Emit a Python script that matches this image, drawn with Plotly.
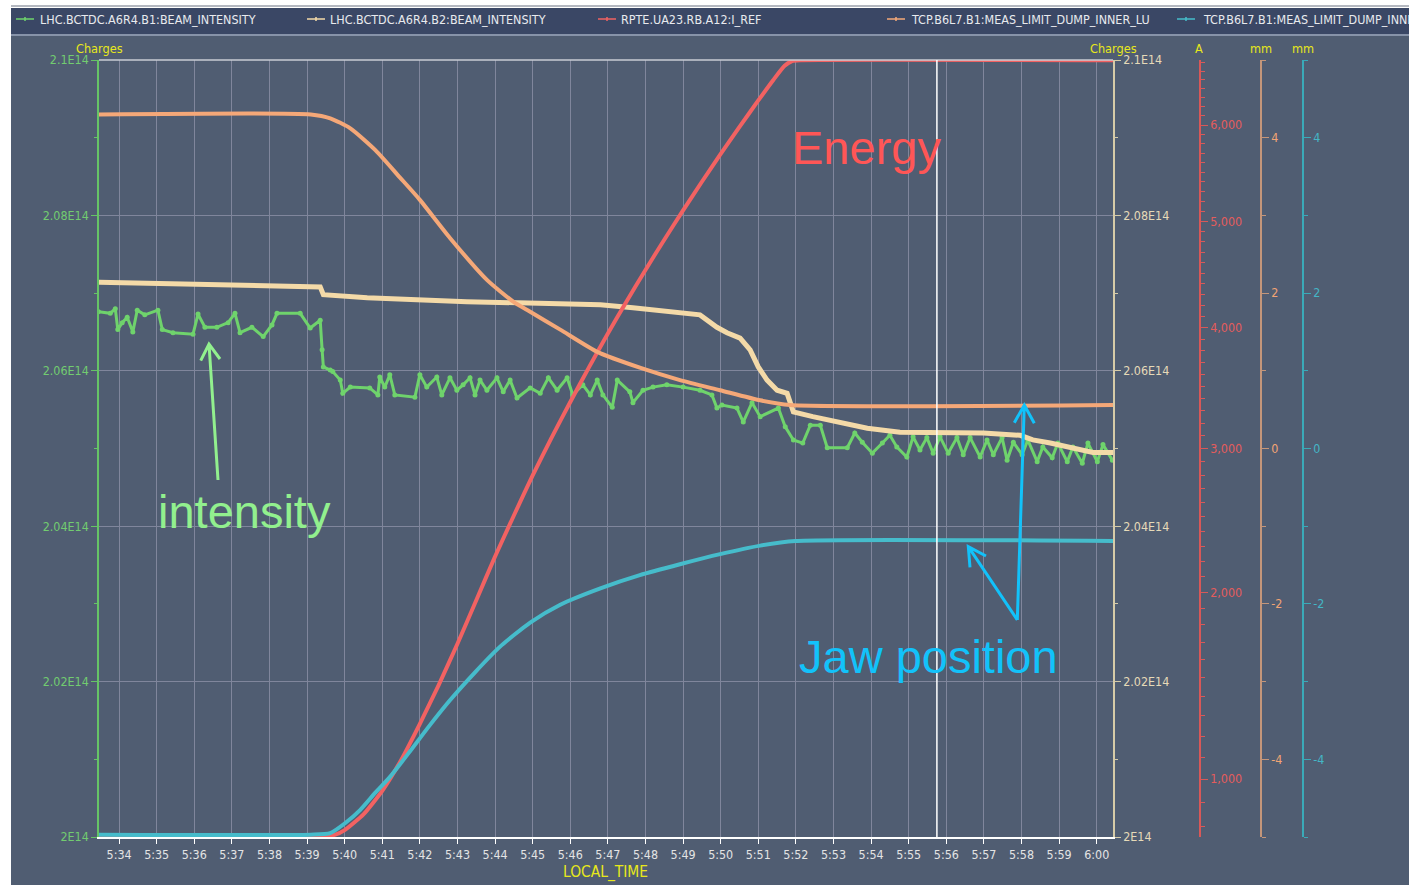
import numpy as np
import pandas as pd
import plotly.graph_objects as go

DAY = "2012-04-15 "

# ---- LHC.BCTDC.A6R4.B1:BEAM_INTENSITY  (charges, x1e14)
b1_time = ["05:33:27", "05:33:46", "05:33:54", "05:33:58", "05:34:05", "05:34:13", "05:34:22", "05:34:29",
           "05:34:41", "05:35:02", "05:35:09", "05:35:26", "05:35:58", "05:36:06", "05:36:17", "05:36:36",
           "05:36:54", "05:37:05", "05:37:13", "05:37:32", "05:37:50", "05:38:04", "05:38:12", "05:38:49",
           "05:39:05", "05:39:21", "05:39:24", "05:39:26", "05:39:37", "05:39:41", "05:39:53", "05:39:57",
           "05:40:09", "05:40:40", "05:40:53", "05:40:56", "05:41:04", "05:41:12", "05:41:20", "05:41:52",
           "05:42:00", "05:42:11", "05:42:27", "05:42:35", "05:42:48", "05:42:59", "05:43:09", "05:43:20",
           "05:43:28", "05:43:36", "05:43:47", "05:44:03", "05:44:13", "05:44:24", "05:44:35", "05:44:56",
           "05:45:12", "05:45:25", "05:45:39", "05:45:55", "05:46:04", "05:46:20", "05:46:32", "05:46:43",
           "05:46:52", "05:47:07", "05:47:15", "05:47:35", "05:47:40", "05:47:56", "05:48:12", "05:48:34",
           "05:49:00", "05:49:27", "05:49:46", "05:49:54", "05:50:02", "05:50:26", "05:50:36", "05:50:50",
           "05:51:03", "05:51:32", "05:51:43", "05:51:56", "05:52:11", "05:52:23", "05:52:39", "05:52:50",
           "05:53:22", "05:53:34", "05:53:46", "05:54:02", "05:54:18", "05:54:30", "05:54:41", "05:54:57",
           "05:55:07", "05:55:18", "05:55:29", "05:55:39", "05:55:50", "05:56:03", "05:56:17", "05:56:27",
           "05:56:38", "05:56:54", "05:57:05", "05:57:15", "05:57:29", "05:57:37", "05:57:47", "05:58:01",
           "05:58:10", "05:58:25", "05:58:34", "05:58:49", "05:58:58", "05:59:13", "05:59:22", "05:59:37",
           "05:59:46", "06:00:01", "06:00:10", "06:00:25"]
b1_charges = [2.0676, 2.0674, 2.0680, 2.0653, 2.0662, 2.0669, 2.0650, 2.0678,
              2.0672, 2.0678, 2.0653, 2.0649, 2.0647, 2.0673, 2.0656, 2.0656,
              2.0662, 2.0674, 2.0649, 2.0656, 2.0644, 2.0659, 2.0674, 2.0674,
              2.0655, 2.0665, 2.0627, 2.0605, 2.0601, 2.0599, 2.0588, 2.0571,
              2.0579, 2.0578, 2.0569, 2.0592, 2.0579, 2.0595, 2.0569, 2.0566,
              2.0595, 2.0579, 2.0592, 2.0569, 2.0591, 2.0575, 2.0582, 2.0591,
              2.0569, 2.0588, 2.0575, 2.0591, 2.0573, 2.0588, 2.0565, 2.0578,
              2.0571, 2.0591, 2.0575, 2.0591, 2.0569, 2.0582, 2.0569, 2.0588,
              2.0569, 2.0553, 2.0588, 2.0573, 2.0559, 2.0575, 2.0579, 2.0582,
              2.0579, 2.0575, 2.0569, 2.0552, 2.0556, 2.0552, 2.0534, 2.0559,
              2.0541, 2.0552, 2.0528, 2.0511, 2.0507, 2.0530, 2.0530, 2.0501,
              2.0501, 2.0520, 2.0508, 2.0494, 2.0507, 2.0517, 2.0502, 2.0489,
              2.0515, 2.0498, 2.0514, 2.0494, 2.0515, 2.0494, 2.0514, 2.0492,
              2.0514, 2.0489, 2.0511, 2.0492, 2.0514, 2.0485, 2.0508, 2.0492,
              2.0511, 2.0483, 2.0502, 2.0488, 2.0507, 2.0483, 2.0502, 2.0481,
              2.0507, 2.0483, 2.0505, 2.0485]

# ---- LHC.BCTDC.A6R4.B2:BEAM_INTENSITY  (charges, x1e14)
b2_time = ["05:33:27", "05:35:01", "05:37:13", "05:39:21", "05:39:26", "05:40:09", "05:40:36", "05:43:15",
           "05:45:01", "05:46:48", "05:47:40", "05:49:27", "05:49:54", "05:50:10", "05:50:31", "05:50:47",
           "05:51:00", "05:51:14", "05:51:30", "05:51:46", "05:51:51", "05:51:56", "05:52:27", "05:53:11",
           "05:53:54", "05:54:46", "05:55:39", "05:56:59", "05:57:58", "05:58:18", "05:58:46", "05:59:22",
           "05:59:54", "06:00:26"]
b2_charges = [2.0714, 2.0712, 2.0710, 2.0708, 2.0698, 2.0695, 2.0694, 2.0689,
              2.0687, 2.0685, 2.0681, 2.0672, 2.0656, 2.0649, 2.0642, 2.0627,
              2.0605, 2.0588, 2.0575, 2.0571, 2.0559, 2.0547, 2.0541, 2.0533,
              2.0526, 2.0521, 2.0520, 2.0520, 2.0517, 2.0511, 2.0507, 2.0501,
              2.0495, 2.0495]

# ---- RPTE.UA23.RB.A12:I_REF  (A)
iref_time = ["05:33:28", "05:39:24", "05:39:45", "05:40:00", "05:40:30", "05:41:00", "05:41:30", "05:42:00",
             "05:42:30", "05:43:00", "05:43:30", "05:44:00", "05:44:30", "05:45:00", "05:45:30", "05:46:00",
             "05:46:30", "05:47:00", "05:47:30", "05:48:00", "05:48:30", "05:49:00", "05:49:30", "05:50:00",
             "05:50:30", "05:51:00", "05:51:24", "05:51:42", "05:51:54", "05:52:06", "06:00:26"]
iref_amps = [760, 760, 769, 787, 850, 949, 1086, 1260,
             1460, 1690, 1950, 2230, 2510, 2800, 3085, 3370,
             3660, 3950, 4240, 4530, 4820, 5110, 5400, 5690,
             5980, 6270, 6500, 6660, 6715, 6725, 6725]

# ---- TCP.B6L7.B1:MEAS_LIMIT_DUMP_INNER_LU  (mm)
lu_time = ["05:33:28", "05:39:06", "05:39:37", "05:40:09", "05:40:49", "05:41:28", "05:42:00", "05:42:48",
           "05:43:47", "05:44:29", "05:44:56", "05:45:44", "05:46:44", "05:47:51", "05:48:55", "05:49:59",
           "05:51:03", "05:51:51", "06:00:26"]
lu_mm = [4.30, 4.30, 4.25, 4.12, 3.84, 3.49, 3.20, 2.71,
         2.17, 1.89, 1.76, 1.53, 1.24, 1.04, 0.88, 0.75,
         0.62, 0.56, 0.56]

# ---- TCP.B6L7.B1:MEAS_LIMIT_DUMP_INNER_RU  (mm)
ru_time = ["05:33:28", "05:39:06", "05:39:37", "05:40:01", "05:40:25", "05:40:49", "05:41:12", "05:41:44",
           "05:42:16", "05:42:48", "05:43:28", "05:44:08", "05:44:56", "05:45:44", "05:46:48", "05:47:51",
           "05:48:55", "05:49:59", "05:51:03", "05:51:59", "06:00:26"]
ru_mm = [-4.97, -4.97, -4.95, -4.82, -4.65, -4.43, -4.23, -3.90,
         -3.56, -3.24, -2.88, -2.55, -2.24, -2.01, -1.80, -1.63,
         -1.49, -1.36, -1.25, -1.19, -1.19]

cursor_time = "05:55:45"
time_range = ["05:33:28", "06:00:26"]

charge_ticks = [2.00, 2.02, 2.04, 2.06, 2.08, 2.10]
charge_labels = ["2E14", "2.02E14", "2.04E14", "2.06E14", "2.08E14", "2.1E14"]
current_ticks = [1000, 2000, 3000, 4000, 5000, 6000]
current_range = [760, 6727]
mm_ticks = [-4, -2, 0, 2, 4]
mm_labels = ["-4", "-2", "0", "2", "4"]

legend_names = ["LHC.BCTDC.A6R4.B1:BEAM_INTENSITY", "LHC.BCTDC.A6R4.B2:BEAM_INTENSITY",
                "RPTE.UA23.RB.A12:I_REF", "TCP.B6L7.B1:MEAS_LIMIT_DUMP_INNER_LU",
                "TCP.B6L7.B1:MEAS_LIMIT_DUMP_INNER_RU"]

# ---- styling
W, H = 1409, 885
ML, MR, MT, MB = 99, 60, 60, 48
PW, PH = W - ML - MR, H - MT - MB
PLOT_RIGHT = 1113
X_DOMAIN = [0, (PLOT_RIGHT - ML) / PW]

BG = "#505d72"
BAR = "#3a4765"
GRID = "#80869c"
YELLOW = "#e8e81a"
GREEN = "#6fd36c"
BEIGE = "#f4daa8"
RED = "#f26262"
ORANGE = "#f5a878"
CYAN = "#46bccb"
UI = "DejaVu Sans Condensed, DejaVu Sans, sans-serif"
BIG = "Liberation Sans, Arial, sans-serif"


def dt(ts):
    return pd.to_datetime([DAY + t for t in ts])


def px(x, y):
    """pixel position on the page -> paper coordinates"""
    return (x - ML) / PW, (H - MB - y) / PH


fig = go.Figure()

fig.add_trace(go.Scatter(x=dt(b1_time), y=b1_charges, yaxis="y", mode="lines+markers",
                         line=dict(color=GREEN, width=3), marker=dict(color=GREEN, size=5),
                         name=legend_names[0]))
fig.add_trace(go.Scatter(x=dt(b2_time), y=b2_charges, yaxis="y2", mode="lines",
                         line=dict(color=BEIGE, width=5), name=legend_names[1]))
fig.add_trace(go.Scatter(x=dt(lu_time), y=lu_mm, yaxis="y4", mode="lines",
                         line=dict(color=ORANGE, width=4, shape="spline", smoothing=0.6),
                         name=legend_names[3]))
fig.add_trace(go.Scatter(x=dt(iref_time), y=np.sqrt(np.array(iref_amps, float)), yaxis="y3",
                         mode="lines", line=dict(color=RED, width=4, shape="spline", smoothing=0.5),
                         name=legend_names[2]))
fig.add_trace(go.Scatter(x=dt(ru_time), y=ru_mm, yaxis="y5", mode="lines",
                         line=dict(color=CYAN, width=4, shape="spline", smoothing=0.6),
                         name=legend_names[4]))

tick_font = dict(family=UI, size=12.4)

minute_ticks = pd.date_range(DAY + "05:34:00", DAY + "06:00:00", freq="1min")

charge_axis = dict(range=[2.0, 2.1], tickvals=charge_ticks, ticktext=charge_labels,
                   ticks="outside", ticklen=6, showline=True, linewidth=1.5, zeroline=False,
                   minor=dict(tickvals=[2.01, 2.03, 2.05, 2.07, 2.09], ticks="outside", ticklen=3,
                              showgrid=False))

sq_min = list(np.sqrt([v for v in range(800, 6800, 100) if v % 1000]))

fig.update_layout(
    width=W, height=H, autosize=False,
    margin=dict(l=ML, r=MR, t=MT, b=MB, pad=0),
    paper_bgcolor=BG, plot_bgcolor=BG,
    showlegend=False,
    xaxis=dict(type="date", domain=X_DOMAIN, range=[DAY + time_range[0], DAY + time_range[1]],
               tickvals=minute_ticks, tickformat="%-H:%M", ticks="outside", ticklen=5,
               tickcolor="#ffffff", tickfont=dict(tick_font, color="#e4e4e4"),
               showgrid=True, gridcolor=GRID, gridwidth=1.3, showline=True, linecolor="#ffffff",
               linewidth=1.5, zeroline=False),
    yaxis=dict(charge_axis, side="left", linecolor="#66c466", tickcolor="#66c466",
               tickfont=dict(tick_font, color="#72cc70"), showgrid=True, gridcolor=GRID,
               gridwidth=1.3),
    yaxis2=dict(charge_axis, side="right", overlaying="y", anchor="x", linecolor="#d6cba8",
                tickcolor="#d6cba8", tickfont=dict(tick_font, color="#e6dab8"), showgrid=False),
    yaxis3=dict(overlaying="y", anchor="free", side="right", position=(1200 - ML) / PW,
                range=list(np.sqrt(current_range)), tickvals=list(np.sqrt(current_ticks)),
                ticktext=[f"{v:,}" for v in current_ticks], ticks="outside", ticklen=7,
                showline=True, linewidth=1.5, linecolor="#d85858", tickcolor="#d85858",
                tickfont=dict(tick_font, color="#e45c5c"), showgrid=False, zeroline=False,
                minor=dict(tickvals=sq_min, ticks="outside", ticklen=4, tickcolor="#d85858")),
    yaxis4=dict(overlaying="y", anchor="free", side="right", position=(1261 - ML) / PW,
                range=[-5, 5], tickvals=mm_ticks, ticktext=mm_labels, ticks="outside", ticklen=7,
                showline=True, linewidth=1.5, linecolor="#c4967a", tickcolor="#c4967a",
                tickfont=dict(tick_font, color="#f2a474"), showgrid=False, zeroline=False,
                minor=dict(tickvals=[-5, -3, -1, 1, 3, 5], ticks="outside", ticklen=4,
                           tickcolor="#c4967a")),
    yaxis5=dict(overlaying="y", anchor="free", side="right", position=(1303 - ML) / PW,
                range=[-5, 5], tickvals=mm_ticks, ticktext=mm_labels, ticks="outside", ticklen=7,
                showline=True, linewidth=1.5, linecolor="#3aaab8", tickcolor="#3aaab8",
                tickfont=dict(tick_font, color="#44b6c6"), showgrid=False, zeroline=False,
                minor=dict(tickvals=[-5, -3, -1, 1, 3, 5], ticks="outside", ticklen=4,
                           tickcolor="#3aaab8")),
)

shapes = []
# page frame: white margin, legend bar
x0, _ = px(0, 0)
x11, _ = px(11, 0)
xr, _ = px(W, 0)
_, ytop = px(0, 0)
_, y8 = px(0, 8)
_, y34 = px(0, 34)
_, ybot = px(0, H)
shapes.append(dict(type="rect", xref="paper", yref="paper", x0=x0, x1=x11, y0=ybot, y1=ytop,
                   fillcolor="#ffffff", line_width=0, layer="below"))
shapes.append(dict(type="rect", xref="paper", yref="paper", x0=x0, x1=xr, y0=y8, y1=ytop,
                   fillcolor="#ffffff", line_width=0, layer="below"))
shapes.append(dict(type="rect", xref="paper", yref="paper", x0=x11, x1=xr, y0=y34, y1=y8,
                   fillcolor=BAR, line_width=0, layer="below"))
shapes.append(dict(type="line", xref="paper", yref="paper", x0=x11, x1=xr, y0=px(0, 6)[1],
                   y1=px(0, 6)[1], line=dict(color="#b4b8c0", width=2), layer="below"))
shapes.append(dict(type="line", xref="paper", yref="paper", x0=x11, x1=xr, y0=px(0, 35)[1],
                   y1=px(0, 35)[1], line=dict(color="#9aa6bc", width=1.5), layer="below"))
# top frame of the plot area
shapes.append(dict(type="line", xref="paper", yref="paper", x0=0, x1=X_DOMAIN[1], y0=1, y1=1,
                   line=dict(color="#c8ccd4", width=1.5)))
# time cursor
shapes.append(dict(type="line", xref="x", yref="paper", x0=DAY + cursor_time, x1=DAY + cursor_time,
                   y0=0, y1=1, line=dict(color="#ffffff", width=1.5)))

# legend row
legend_colors = [GREEN, BEIGE, RED, ORANGE, CYAN]
legend_sym_x = [25, 316, 607, 896, 1186]
legend_txt_x = [38, 328, 619, 909, 1201]
annotations = []
for name, col, sx, tx in zip(legend_names, legend_colors, legend_sym_x, legend_txt_x):
    a, yy = px(sx - 9, 19)
    b, _ = px(sx + 9, 19)
    shapes.append(dict(type="line", xref="paper", yref="paper", x0=a, x1=b, y0=yy, y1=yy,
                       line=dict(color=col, width=1.5)))
    c, yA = px(sx, 17)
    _, yB = px(sx, 21)
    shapes.append(dict(type="line", xref="paper", yref="paper", x0=c, x1=c, y0=yA, y1=yB,
                       line=dict(color=col, width=1.5)))
    tx_p, ty_p = px(tx, 19)
    annotations.append(dict(x=tx_p, y=ty_p, xref="paper", yref="paper", text=name, showarrow=False,
                            xanchor="left", yanchor="middle",
                            font=dict(family=UI, size=12.45, color="#e8eaee")))

# axis titles
for txt, cx in [("Charges", 99.5), ("Charges", 1113), ("A", 1199), ("mm", 1261), ("mm", 1303)]:
    xx, yy = px(cx, 48)
    annotations.append(dict(x=xx, y=yy, xref="paper", yref="paper", text=txt, showarrow=False,
                            xanchor="center", yanchor="middle",
                            font=dict(family=UI, size=12.6, color=YELLOW)))
xx, yy = px(605, 872)
annotations.append(dict(x=xx, y=yy, xref="paper", yref="paper", text="LOCAL_TIME", showarrow=False,
                        xanchor="center", yanchor="middle",
                        font=dict(family=UI, size=15.4, color=YELLOW)))

# callout labels
for txt, cx, cy, col in [("Energy", 866, 147, "#ff5656"), ("intensity", 244, 511, "#92f08e"),
                         ("Jaw position", 928, 656, "#12c2fa")]:
    xx, yy = px(cx, cy)
    annotations.append(dict(x=xx, y=yy, xref="paper", yref="paper", text=txt, showarrow=False,
                            xanchor="center", yanchor="middle",
                            font=dict(family=BIG, size=47, color=col)))


def arrow(tail, tip, left, right, col):
    pts = [px(*tail), px(*tip)]
    path = "M {} {} L {} {}".format(pts[0][0], pts[0][1], pts[1][0], pts[1][1])
    l, r, t = px(*left), px(*right), px(*tip)
    path += " M {} {} L {} {} L {} {}".format(l[0], l[1], t[0], t[1], r[0], r[1])
    return dict(type="path", xref="paper", yref="paper", path=path,
                line=dict(color=col, width=3))


shapes.append(arrow((218, 480), (209, 344), (200.7, 360.7), (220, 359), "#92f08e"))
shapes.append(arrow((1017.3, 620), (1024.3, 405), (1014.3, 422.7), (1034.3, 423.3), "#12c2fa"))
shapes.append(arrow((1017.3, 620), (968.3, 546.7), (970, 567.3), (986, 556), "#12c2fa"))

fig.update_layout(shapes=shapes, annotations=annotations)

fig.write_html("out.html")
